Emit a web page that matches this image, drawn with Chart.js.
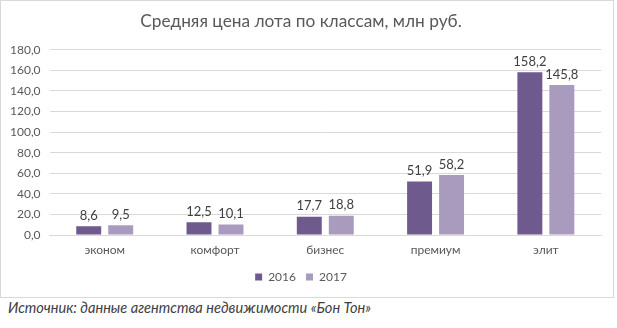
<!DOCTYPE html>
<html>
<head>
<meta charset="utf-8">
<script src="https://cdn.jsdelivr.net/npm/chart.js@4/dist/chart.umd.min.js"></script>
<style>
  body { margin: 0; background: #fff; }
  #box { position: absolute; left: 0; top: 0; width: 612px; height: 296px; border: 1px solid #d9d9d9; }
  #src { position: absolute; left: 8px; top: 299px; font: italic 14.6px Lato, sans-serif; color: #404040; }
</style>
</head>
<body>
<div id="box"><canvas id="grafico" width="612" height="296"></canvas></div>
<div id="src">Источник: данные агентства недвижимости «Бон Тон»</div>
<script>
const classes = ['эконом', 'комфорт', 'бизнес', 'премиум', 'элит'];
const years = ['2016', '2017'];
const precios2016 = [8.6, 12.5, 17.7, 51.9, 158.2];
const precios2017 = [9.5, 10.1, 18.8, 58.2, 145.8];
const colores = ['#6f5a8e', '#a99bbe'];

const fmt = v => v.toFixed(1).replace('.', ',');

const etiquetas = {
  id: 'etiquetas',
  afterDatasetsDraw(chart) {
    const ctx = chart.ctx;
    ctx.save();
    ctx.font = '13px Lato, sans-serif';
    ctx.fillStyle = '#404040';
    ctx.textAlign = 'center';
    ctx.textBaseline = 'bottom';
    chart.data.datasets.forEach((ds, i) => {
      chart.getDatasetMeta(i).data.forEach((bar, j) => {
        ctx.fillText(fmt(ds.data[j]), bar.x, bar.y - 4);
      });
    });
    ctx.restore();
  }
};

const ctx = document.getElementById('grafico').getContext('2d');
new Chart(ctx, {
  type: 'bar',
  data: {
    labels: classes,
    datasets: [
      { label: years[0], data: precios2016, backgroundColor: colores[0], barPercentage: 0.78, categoryPercentage: 0.58 },
      { label: years[1], data: precios2017, backgroundColor: colores[1], barPercentage: 0.78, categoryPercentage: 0.58 }
    ]
  },
  options: {
    responsive: false,
    animation: false,
    layout: { padding: { left: 0, right: 12, top: 0, bottom: 4 } },
    plugins: {
      title: {
        display: true,
        text: 'Средняя цена лота по классам, млн руб.',
        font: { family: 'Lato, sans-serif', size: 17.3, weight: 'normal' },
        color: '#595959',
        padding: { top: 10, bottom: 18 }
      },
      legend: {
        position: 'bottom',
        labels: {
          boxWidth: 7, boxHeight: 7, color: '#595959',
          font: { family: 'Lato, sans-serif', size: 12 },
          padding: 10
        }
      },
      tooltip: { enabled: false }
    },
    scales: {
      x: {
        grid: { display: false },
        border: { color: '#d9d9d9' },
        ticks: { color: '#595959', font: { family: 'Lato, sans-serif', size: 12 }, padding: 0 },
        afterFit: s => { s.height = 26; }
      },
      y: {
        min: 0, max: 180,
        border: { display: false },
        grid: { color: '#d9d9d9', drawTicks: false },
        ticks: {
          stepSize: 20, color: '#595959', padding: 9,
          font: { family: 'Lato, sans-serif', size: 12 },
          callback: v => fmt(v)
        }
      }
    }
  },
  plugins: [etiquetas]
});
</script>
</body>
</html>
